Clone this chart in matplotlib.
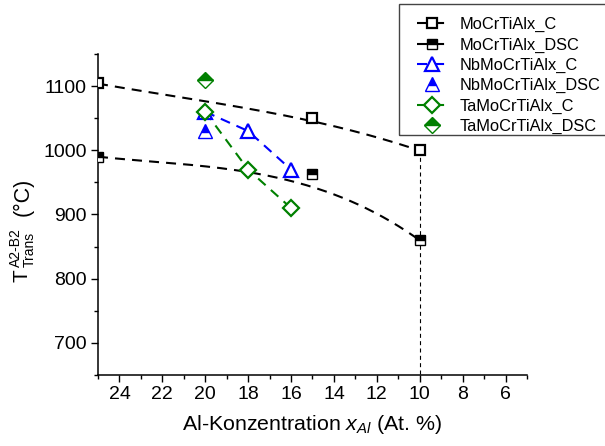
import numpy as np
import matplotlib
matplotlib.use("Agg")
import matplotlib.pyplot as plt
from matplotlib.lines import Line2D
from matplotlib.patches import Rectangle
from matplotlib.ticker import MultipleLocator

plt.rcParams['font.family'] = ['Liberation Sans', 'DejaVu Sans']
plt.rcParams['mathtext.fontset'] = 'custom'
plt.rcParams['mathtext.rm'] = 'Liberation Sans'
plt.rcParams['mathtext.it'] = 'Liberation Sans:italic'
plt.rcParams['mathtext.bf'] = 'Liberation Sans:bold'

# --- data -------------------------------------------------------------
x_mo = [25, 15, 10]
mo_c = [1105, 1050, 1000]
mo_dsc = [990, 963, 860]

x_alloy = [20, 18, 16]
nb_c = [1060, 1030, 970]
ta_c = [1060, 970, 910]

x_dsc = [20]
nb_dsc = [1030]
ta_dsc = [1110]

# guide curves for the MoCrTiAlx series
guide_c_x = [25, 24.3, 22.9, 21.4, 20, 18.1, 16.6, 13.5, 11.7, 10]
guide_c_y = [1104, 1100, 1092, 1083, 1076, 1066, 1058, 1032, 1017, 1000]
guide_dsc_x = [25, 21.2, 16.3, 14.3, 11.7, 10.9, 10]
guide_dsc_y = [990, 979, 954, 936, 895, 880, 860]

x_ticks = [24, 22, 20, 18, 16, 14, 12, 10, 8, 6]
y_ticks = [700, 800, 900, 1000, 1100]

# --- styling ----------------------------------------------------------
BLUE = '#0000ff'
GREEN = '#008000'
dash = (0, (4.8, 3.4))
lw = 1.5
W, H = 605, 446


def fx(px):
    return px / W


def fy(py):
    return 1 - py / H


fig = plt.figure(figsize=(W / 100, H / 100), dpi=100)
ax = fig.add_axes([fx(98), fy(375), (527 - 98) / W, (375 - 54) / H])

# fitted guide curves
xs = np.linspace(25, 10, 200)
pc = np.polyfit(guide_c_x, guide_c_y, 3)
pd_ = np.polyfit(guide_dsc_x, guide_dsc_y, 3)
ax.plot(xs, np.polyval(pc, xs), color='black', lw=lw, ls=dash, zorder=2)
ax.plot(xs, np.polyval(pd_, xs), color='black', lw=lw, ls=dash, zorder=2)

# vertical reference at the lowest Al content
ax.plot([x_mo[-1], x_mo[-1]], [mo_c[-1], 650], color='black', lw=0.8,
        ls=(0, (3.6, 3.0)), zorder=1)

# connecting lines for the Nb / Ta series
ax.plot(x_alloy, nb_c, color=BLUE, lw=lw, ls=dash, zorder=2)
ax.plot(x_alloy, ta_c, color=GREEN, lw=lw, ls=dash, zorder=2)

mk = dict(ls='none', zorder=4)
ax.plot(x_mo, mo_c, marker='s', ms=7.2, mfc='white', mec='black', mew=1.6, **mk)
ax.plot(x_mo, mo_dsc, marker='s', ms=7.2, fillstyle='top', mfc='black',
        mfcalt='white', mec='black', mew=1.0, **mk)
ax.plot(x_alloy, nb_c, marker='^', ms=10, mfc='white', mec=BLUE, mew=1.6, **mk)
ax.plot(x_dsc, nb_dsc, marker='^', ms=10, fillstyle='top', mfc=BLUE,
        mfcalt='white', mec=BLUE, mew=1.0, **mk)
ax.plot(x_alloy, ta_c, marker='D', ms=8.3, mfc='white', mec=GREEN, mew=1.6, **mk)
ax.plot(x_dsc, ta_dsc, marker='D', ms=8.3, fillstyle='top', mfc=GREEN,
        mfcalt='white', mec=GREEN, mew=1.0, **mk)

# axes
ax.set_xlim(25, 5)
ax.set_ylim(650, 1150)
ax.set_xticks(x_ticks)
ax.xaxis.set_minor_locator(MultipleLocator(1))
ax.set_yticks(y_ticks)
ax.yaxis.set_minor_locator(MultipleLocator(50))
for s in ('top', 'right'):
    ax.spines[s].set_visible(False)
for s in ('left', 'bottom'):
    ax.spines[s].set_linewidth(1.1)
ax.tick_params(which='major', length=5, width=1.0, labelsize=14, direction='out', pad=3)
ax.tick_params(which='minor', length=2.6, width=1.0, direction='out')

ax.set_xlabel(r'Al-Konzentration $\mathit{x}_{\mathit{Al}}$ (At. %)', fontsize=15.4, labelpad=7)

# y-axis title: T with super/subscripts, then the unit
rot = dict(rotation=90, rotation_mode='anchor', ha='left', va='baseline')
fig.text(fx(27), fy(282), 'T', fontsize=15, **rot)
fig.text(fx(19.5), fy(267), 'A2-B2', fontsize=10, **rot)
fig.text(fx(33.5), fy(267), 'Trans', fontsize=10, **rot)
fig.text(fx(29), fy(216), '(°C)', fontsize=15.5, **rot)

# legend
handles = [
    Line2D([], [], color='black', lw=lw, ls=dash, marker='s', ms=7.2, mfc='white', mec='black', mew=1.6),
    Line2D([], [], color='black', lw=lw, ls=dash, marker='s', ms=7.2, fillstyle='top', mfc='black',
           mfcalt='white', mec='black', mew=1.0),
    Line2D([], [], color=BLUE, lw=lw, ls=dash, marker='^', ms=10, mfc='white', mec=BLUE, mew=1.6),
    Line2D([], [], ls='none', marker='^', ms=10, fillstyle='top', mfc=BLUE, mfcalt='white', mec=BLUE, mew=1.0),
    Line2D([], [], color=GREEN, lw=lw, ls=dash, marker='D', ms=8.3, mfc='white', mec=GREEN, mew=1.6),
    Line2D([], [], ls='none', marker='D', ms=8.3, fillstyle='top', mfc=GREEN, mfcalt='white', mec=GREEN, mew=1.0),
]
labels = ['MoCrTiAlx_C', 'MoCrTiAlx_DSC', 'NbMoCrTiAlx_C', 'NbMoCrTiAlx_DSC',
          'TaMoCrTiAlx_C', 'TaMoCrTiAlx_DSC']
leg = fig.legend(handles, labels, loc='upper left', bbox_to_anchor=(fx(417), fy(17)),
                 bbox_transform=fig.transFigure, fontsize=11.8, frameon=False,
                 handlelength=1.8, handletextpad=0.78, labelspacing=0.32, borderpad=0,
                 borderaxespad=0)

# legend frame, running past the right edge of the figure
fig.patches.append(Rectangle((fx(399), fy(135)), 220 / W, 131 / H,
                             transform=fig.transFigure, fill=False,
                             edgecolor='#444444', linewidth=1.0, zorder=5))

fig.savefig('out.png', dpi=100)
